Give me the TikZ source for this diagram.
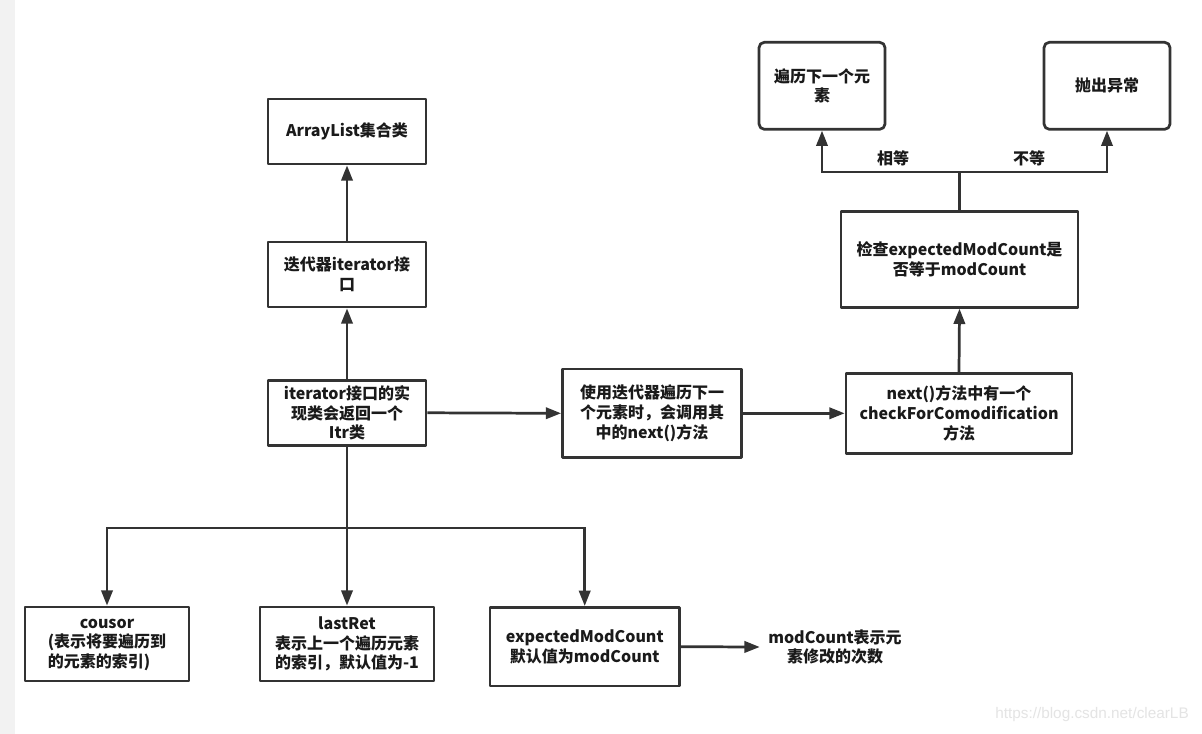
\documentclass[tikz,border=0pt]{standalone}
\usepackage{fontspec}
\setmainfont{Noto Sans CJK SC}
\newfontfamily\wmfont{Liberation Sans}
\usetikzlibrary{arrows.meta}
\definecolor{ln}{HTML}{333333}
\definecolor{tx}{HTML}{1A1A1A}
\definecolor{wmc}{HTML}{E4E4E4}
\definecolor{strip}{HTML}{F2F2F2}
\tikzset{
  box/.style={draw=ln, line width=2.05pt, line join=round, fill=white, inner sep=0pt, align=center,
    text=tx, font=\fontsize{12pt}{14.8pt}\selectfont\bfseries},
  rbox/.style={box, rounded corners=4pt},
  lbl/.style={inner sep=0pt, text=tx, align=center, font=\fontsize{12pt}{14.8pt}\selectfont\bfseries},
  conn/.style={draw=ln, line width=2.05pt, -{Triangle[length=11.5pt,width=8.5pt]}},
  wire/.style={draw=ln, line width=2.05pt}
}
\begin{document}
\begin{tikzpicture}[x=0.75pt,y=-0.75pt]
\useasboundingbox (0,0) rectangle (1202,734);
\fill[white] (0,0) rectangle (1202,734);
\fill[strip] (0,0) rectangle (15,734);

% boxes
\node[box, minimum width=118.5pt, minimum height=48.75pt] (arr) at (347,131.5) {ArrayList集合类};
\node[box, minimum width=118.5pt, minimum height=48.75pt] (itf) at (347,274.5) {迭代器iterator接\\口};
\node[box, minimum width=118.5pt, minimum height=49pt] (itr) at (347,412.8) {iterator接口的实\\现类会返回一个\\Itr类};
\node[box, minimum width=134.25pt, minimum height=66.5pt] (use) at (652,413.3) {使用迭代器遍历下一\\个元素时，会调用其\\中的next()方法};
\node[box, minimum width=169.5pt, minimum height=60pt] (nxt) at (959,413.3) {next()方法中有一个\\checkForComodification\\方法};
\node[box, minimum width=177.75pt, minimum height=71.7pt] (chk) at (959.5,259.5) {检查expectedModCount是\\否等于modCount};
\node[rbox, minimum width=94.5pt, minimum height=65.25pt] (trav) at (822,85.8) {遍历下一个元\\素};
\node[rbox, minimum width=94.5pt, minimum height=65.25pt] (thr) at (1107,85.8) {抛出异常};
\node[box, minimum width=123pt, minimum height=55.5pt] (cou) at (107,644) {\begin{tabular}{@{}l@{}}\multicolumn{1}{@{}c@{}}{cousor}\\(表示将要遍历到\\的元素的索引)\end{tabular}};
\node[box, minimum width=130.5pt, minimum height=55.5pt] (lst) at (347,644) {lastRet\\表示上一个遍历元素\\的索引，默认值为-1};
\node[box, minimum width=142pt, minimum height=59pt] (exp) at (584.7,646.7) {expectedModCount\\默认值为modCount};
\node[lbl, inner xsep=6.2pt] (mod) at (835,647) {modCount表示元\\素修改的次数};

% labels
\node[lbl] (eq) at (893,158) {相等};
\node[lbl] (ne) at (1029,158) {不等};

% connectors
\draw[conn] (itr.north) -- (itf.south);
\draw[conn] (itf.north) -- (arr.south);
\draw[conn] (itr.east) -- (use.west);
\draw[conn] (use.east) -- (nxt.west);
\draw[conn] (nxt.north) -- (chk.south);
\coordinate (br) at (959.5,172);
\draw[wire] (chk.north) -- (br);
\draw[conn] (br) -| (trav.south);
\draw[conn] (br) -| (thr.south);
\coordinate (bus) at (347,528);
\draw[conn] (itr.south) -- (lst.north);
\draw[conn] (bus) -| (cou.north);
\draw[conn] (bus) -| (exp.north);
\draw[conn] (exp.east) -- (mod.west);

% watermark
\node[inner sep=0pt, text=wmc, font=\wmfont\fontsize{11.5pt}{13pt}\selectfont] (wm) at (1092,715) {https://blog.csdn.net/clearLB};
\end{tikzpicture}
\end{document}
